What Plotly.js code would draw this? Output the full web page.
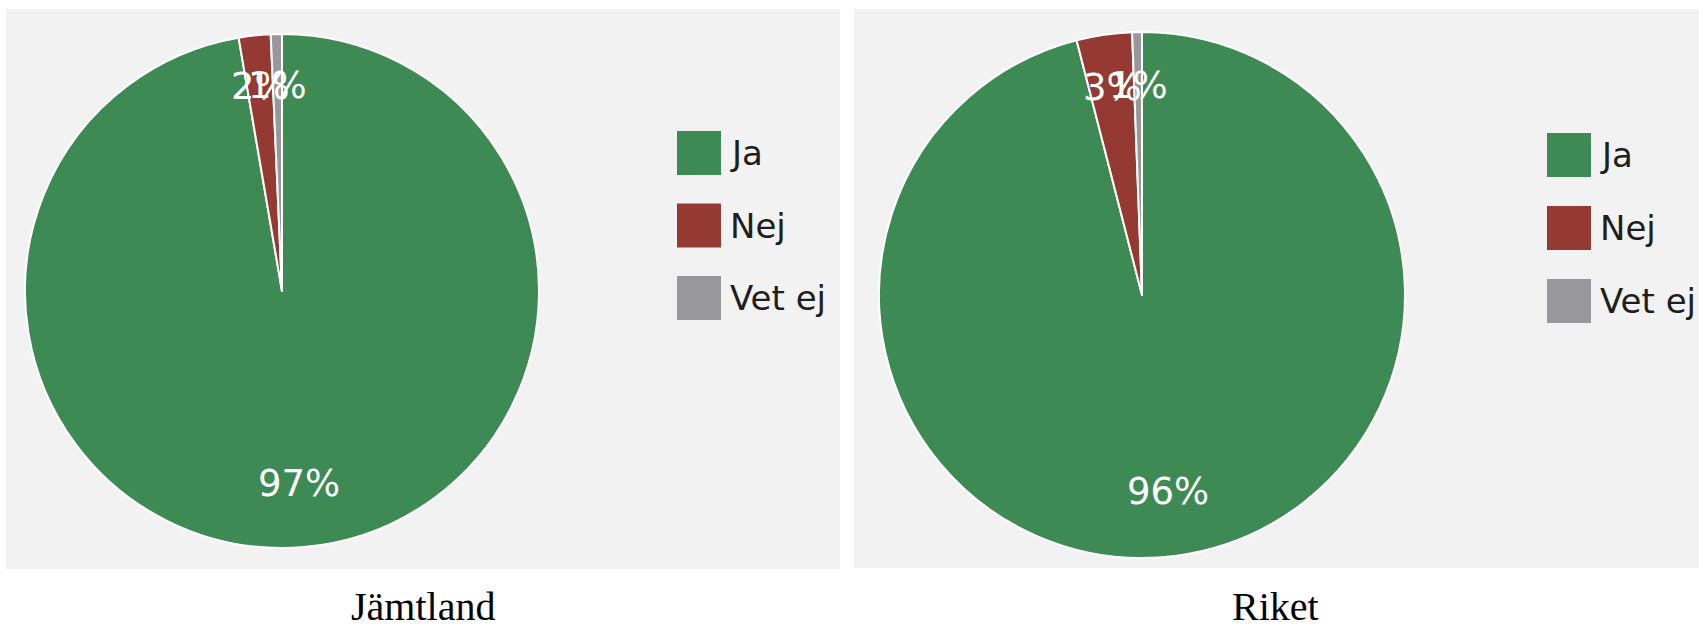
<!DOCTYPE html>
<html>
<head>
<meta charset="utf-8">
<script src="https://cdn.plot.ly/plotly-3.0.1.min.js"></script>
<style>html,body{margin:0;padding:0;background:#fff;}#chart{width:1699px;height:628px;}</style>
</head>
<body>
<div id="chart"></div>
<script>
// ---- data ----
const categories = ['Ja', 'Nej', 'Vet ej'];
const jamtlandValues = [97.3, 2.0, 0.7];
const riketValues = [96.0, 3.4, 0.6];
const panelTitles = ['Jämtland', 'Riket'];
const sliceColors = ['#3e8a55', '#943a32', '#98989c'];

// ---- layout geometry (pixels) ----
const W = 1699, H = 628;
const panels = [
  { values: jamtlandValues, title: panelTitles[0], bg: [6, 9, 840, 569], cx: 282, cy: 291, R: 257,
    legX: 677, legY: 131, legStep: 72.5, titleX: 423 },
  { values: riketValues, title: panelTitles[1], bg: [854, 9, 1699, 568], cx: 1142, cy: 295, R: 263,
    legX: 1547, legY: 133, legStep: 73, titleX: 1275 }
];
const px = x => x / W;
const py = y => 1 - y / H;

const traces = [];
const shapes = [];
const annotations = [];

panels.forEach((p, k) => {
  traces.push({
    type: 'pie',
    labels: categories,
    values: p.values,
    sort: false,
    direction: 'clockwise',
    rotation: 0,
    textinfo: 'none',
    hoverinfo: 'label+percent',
    showlegend: false,
    marker: { colors: sliceColors, line: { color: '#ffffff', width: 2 } },
    domain: { x: [px(p.cx - p.R), px(p.cx + p.R)], y: [py(p.cy + p.R), py(p.cy - p.R)] }
  });
  // panel background
  shapes.push({ type: 'rect', xref: 'paper', yref: 'paper', layer: 'below',
    x0: px(p.bg[0]), x1: px(p.bg[2]), y0: py(p.bg[3]), y1: py(p.bg[1]),
    fillcolor: '#f2f2f2', line: { width: 0 } });
  // percent labels at slice mid-angles
  const total = p.values.reduce((a, b) => a + b, 0);
  let cum = 0;
  p.values.forEach(v => {
    const mid = (cum + v / 2) / total * 2 * Math.PI;
    cum += v;
    const r = 0.775 * p.R;
    annotations.push({ xref: 'paper', yref: 'paper', showarrow: false,
      x: px(p.cx + r * Math.sin(mid)), y: py(p.cy - r * Math.cos(mid)), yshift: 6,
      xanchor: 'center', yanchor: 'middle',
      text: Math.round(v / total * 100) + '%',
      font: { family: 'DejaVu Sans', size: 37, color: '#ffffff' } });
  });
  // legend
  categories.forEach((c, i) => {
    const top = p.legY + i * p.legStep;
    shapes.push({ type: 'rect', xref: 'paper', yref: 'paper',
      x0: px(p.legX), x1: px(p.legX + 44), y0: py(top + 44), y1: py(top),
      fillcolor: sliceColors[i], line: { width: 0 } });
    annotations.push({ xref: 'paper', yref: 'paper', showarrow: false,
      x: px(p.legX + 51), y: py(top + 22), xanchor: 'left', yanchor: 'middle',
      text: c, font: { family: 'DejaVu Sans', size: 34, color: '#1e1e1e' } });
  });
  // panel caption
  annotations.push({ xref: 'paper', yref: 'paper', showarrow: false,
    x: px(p.titleX), y: py(606), xanchor: 'center', yanchor: 'middle',
    text: p.title, font: { family: 'Liberation Serif', size: 40, color: '#000000' } });
});

Plotly.newPlot('chart', traces, {
  width: W, height: H,
  margin: { l: 0, r: 0, t: 0, b: 0 },
  paper_bgcolor: '#ffffff',
  showlegend: false,
  shapes: shapes,
  annotations: annotations
}, { displayModeBar: false, staticPlot: true });
</script>
</body>
</html>
